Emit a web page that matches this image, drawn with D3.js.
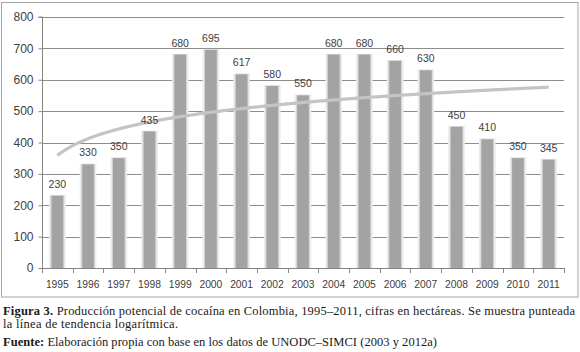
<!DOCTYPE html>
<html><head><meta charset="utf-8">
<script src="https://cdn.jsdelivr.net/npm/d3@7"></script>
<style>body{margin:0;background:#fff}svg{display:block}</style>
</head><body>
<svg id="c" width="580" height="352"></svg>
<script>
const years = ["1995","1996","1997","1998","1999","2000","2001","2002","2003","2004","2005","2006","2007","2008","2009","2010","2011"];
const hectares = [230,330,350,435,680,695,617,580,550,680,680,660,630,450,410,350,345];
const yTicks = [0,100,200,300,400,500,600,700,800];
const captionLines = [
  ["Figura 3.", " Producción potencial de cocaína en Colombia, 1995–2011, cifras en hectáreas. Se muestra punteada"],
  ["", "la línea de tendencia logarítmica."],
  ["Fuente:", " Elaboración propia con base en los datos de UNODC–SIMCI (2003 y 2012a)"]
];

const svg = d3.select("#c");
const m = {left:42, right:564, top:17, bottom:268};
const x = d3.scaleBand().domain(years).range([m.left, m.right]).paddingInner(0.62).paddingOuter(0.31);
const y = d3.scaleLinear().domain([0,800]).range([m.bottom, m.top]);

// chart border
svg.append("rect").attr("x",1.5).attr("y",2.5).attr("width",576.5).attr("height",294.5)
  .attr("fill","none").attr("stroke","#a6a6a6").attr("stroke-width",1);

// gridlines
svg.append("g").selectAll("line").data(yTicks.slice(1)).join("line")
  .attr("x1",m.left).attr("x2",m.right)
  .attr("y1",d=>Math.round(y(d))+0.5).attr("y2",d=>Math.round(y(d))+0.5)
  .attr("stroke","#8c8c8c").attr("stroke-width",1);

// bars with halo
const bw = x.bandwidth();
svg.append("g").selectAll("rect").data(hectares).join("rect")
  .attr("x",(d,i)=>x(years[i])-2.5).attr("width",bw+5)
  .attr("y",d=>y(d)-1).attr("height",d=>m.bottom-y(d)+1)
  .attr("fill","#ececec");
svg.append("g").selectAll("rect").data(hectares).join("rect")
  .attr("x",(d,i)=>x(years[i])-1).attr("width",bw+2)
  .attr("y",d=>y(d)-0.5).attr("height",d=>m.bottom-y(d)+0.5)
  .attr("fill","#d4d4d4");
svg.append("g").selectAll("rect").data(hectares).join("rect")
  .attr("x",(d,i)=>x(years[i])).attr("width",bw)
  .attr("y",d=>y(d)).attr("height",d=>m.bottom-y(d))
  .attr("fill","#a3a3a3");

// logarithmic trend line (least squares fit of y = a + b ln(t))
const lx = hectares.map((d,i)=>Math.log(i+1));
const mx = d3.mean(lx), my = d3.mean(hectares);
const b = d3.sum(lx.map((v,i)=>(v-mx)*(hectares[i]-my))) / d3.sum(lx.map(v=>(v-mx)*(v-mx)));
const a = my - b*mx;
const tPos = t => x(years[0]) + bw/2 + (t-1)*x.step();
const trend = d3.range(1, years.length + 0.001, 0.1).map(t=>[tPos(t), y(a + b*Math.log(t))]);
svg.append("path").attr("d", d3.line().curve(d3.curveBasis)(trend))
  .attr("fill","none").attr("stroke","#c4c4c4").attr("stroke-width",3.2);

// data labels
svg.append("g").selectAll("text").data(hectares).join("text")
  .attr("x",(d,i)=>x(years[i])+bw/2).attr("y",d=>y(d)-8)
  .attr("text-anchor","middle").attr("font-family","Liberation Sans, Arial, sans-serif")
  .attr("font-size","10.5px").attr("fill","#404040").text(d=>d);

// y axis
const yAxis = svg.append("g").attr("transform",`translate(${m.left+0.5},0)`)
  .call(d3.axisLeft(y).tickValues(yTicks).tickSize(4).tickPadding(5).tickFormat(d3.format("d")));
yAxis.select(".domain").attr("stroke","#868686").attr("d",`M-4,${y(800)}H0V${m.bottom}`);
yAxis.selectAll(".tick line").attr("stroke","#868686");
yAxis.selectAll("text").attr("font-family","Liberation Sans, Arial, sans-serif").attr("font-size","12px").attr("fill","#404040");

// x axis
const xg = svg.append("g");
xg.append("line").attr("x1",m.left).attr("x2",m.right).attr("y1",m.bottom+0.5).attr("y2",m.bottom+0.5).attr("stroke","#868686");
xg.selectAll("line.t").data(d3.range(years.length+1)).join("line").attr("class","t")
  .attr("x1",i=>Math.round(m.left + i*(m.right-m.left)/years.length)+0.5)
  .attr("x2",i=>Math.round(m.left + i*(m.right-m.left)/years.length)+0.5)
  .attr("y1",m.bottom).attr("y2",m.bottom+5).attr("stroke","#868686");
xg.selectAll("text").data(years).join("text")
  .attr("x",d=>x(d)+bw/2).attr("y",m.bottom+20)
  .attr("text-anchor","middle").attr("font-family","Liberation Sans, Arial, sans-serif")
  .attr("font-size","10.3px").attr("fill","#404040").text(d=>d);

// caption
const capY = [315, 328, 346];
const capLen = [572, 175, 434];
captionLines.forEach((ln,i)=>{
  const t = svg.append("text").attr("x",3).attr("y",capY[i])
    .attr("font-family","Liberation Serif, serif").attr("font-size","12.5px").attr("fill","#1a1a1a")
    .attr("textLength",capLen[i]).attr("lengthAdjust","spacing");
  if (ln[0]) t.append("tspan").attr("font-weight","bold").text(ln[0]);
  t.append("tspan").text(ln[1]);
});
</script>
</body></html>
